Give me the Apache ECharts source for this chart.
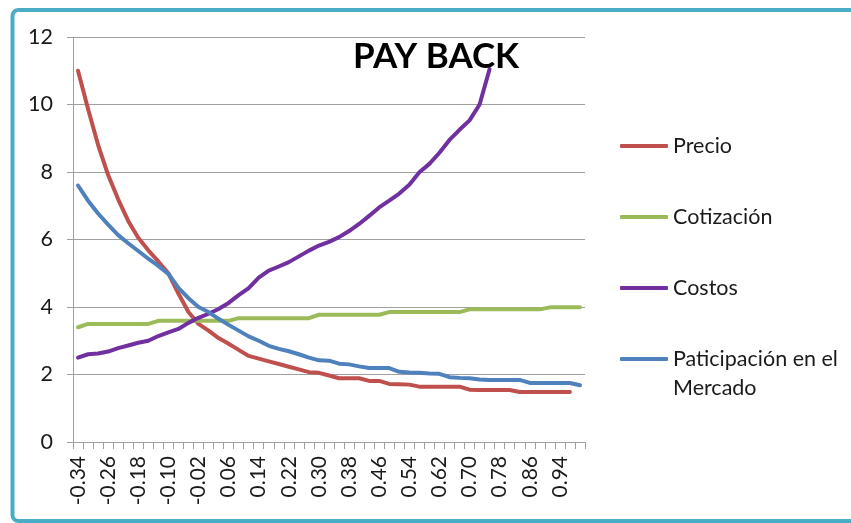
<!DOCTYPE html>
<html><head><meta charset="utf-8">
<script src="https://cdn.jsdelivr.net/npm/echarts@6/dist/echarts.min.js"></script>
<style>html,body{margin:0;padding:0;background:#fff}#c{width:851px;height:523px}</style>
</head><body><div id="c"></div>
<script>
const categories = ['-0.34','-0.31','-0.29','-0.26','-0.23','-0.21','-0.18','-0.15','-0.13','-0.10',
  '-0.07','-0.05','-0.02','0.01','0.03','0.06','0.09','0.11','0.14','0.17',
  '0.19','0.22','0.25','0.27','0.30','0.33','0.35','0.38','0.41','0.43',
  '0.46','0.49','0.51','0.54','0.57','0.59','0.62','0.65','0.67','0.70',
  '0.73','0.75','0.78','0.81','0.83','0.86','0.89','0.91','0.94','0.97','0.99'];
const seriesNames = ['Precio','Cotización','Costos','Paticipación en el Mercado'];
const precio = [11.0,9.87,8.80,7.91,7.19,6.55,6.05,5.68,5.35,5.00,
  4.40,3.85,3.50,3.30,3.08,2.91,2.73,2.55,2.47,2.39,
  2.31,2.23,2.15,2.07,2.05,1.97,1.89,1.89,1.89,1.81,
  1.81,1.72,1.71,1.70,1.64,1.64,1.64,1.64,1.64,1.55,
  1.54,1.54,1.54,1.54,1.48,1.48,1.48,1.48,1.48,1.48,null];
const cotizacion = [3.40,3.50,3.50,3.50,3.50,3.50,3.50,3.50,3.59,3.59,
  3.59,3.59,3.59,3.59,3.59,3.59,3.67,3.67,3.67,3.67,
  3.67,3.67,3.67,3.67,3.77,3.77,3.77,3.77,3.77,3.77,
  3.77,3.85,3.85,3.85,3.85,3.85,3.85,3.85,3.85,3.93,
  3.93,3.93,3.93,3.93,3.93,3.93,3.93,3.99,3.99,3.99,3.99];
const costos = [2.50,2.60,2.62,2.68,2.78,2.86,2.94,3.00,3.14,3.25,
  3.35,3.53,3.68,3.80,3.94,4.12,4.35,4.56,4.87,5.08,
  5.20,5.33,5.50,5.67,5.82,5.93,6.07,6.25,6.46,6.70,
  6.95,7.15,7.36,7.62,7.99,8.24,8.57,8.95,9.25,9.53,
  10.0,11.05,null,null,null,null,null,null,null,null,null];
const participacion = [7.60,7.15,6.77,6.44,6.13,5.89,5.66,5.43,5.22,4.98,
  4.57,4.26,4.00,3.85,3.65,3.47,3.30,3.13,3.00,2.85,
  2.76,2.69,2.60,2.50,2.42,2.41,2.32,2.30,2.24,2.19,
  2.19,2.19,2.08,2.06,2.05,2.03,2.02,1.92,1.90,1.89,
  1.85,1.84,1.84,1.84,1.84,1.75,1.75,1.75,1.75,1.75,1.68];
const colors = ['#C0504D','#9BBB59','#7030A0','#4F81BD'];
const FONT = 'Lato, "Open Sans", sans-serif';

const chart = echarts.init(document.getElementById('c'), null, {renderer:'canvas'});
const dataSets = [precio, cotizacion, costos, participacion];
const option = {
  animation: false,
  backgroundColor: '#fff',
  color: colors,
  title: {text: 'PAY BACK', left: 353, top: 39, padding: 0,
    textStyle: {fontFamily: FONT, fontWeight: 'bold', fontSize: 35, color: '#000'}},
  grid: {left: 73, right: 266, top: 37, bottom: 81, containLabel: false},
  legend: {orient: 'vertical', left: 615, top: 127, itemWidth: 48, itemHeight: 4, itemGap: 43,
    icon: 'roundRect', padding: 5,
    textStyle: {fontFamily: FONT, fontSize: 21.5, color: '#1a1a1a', lineHeight: 28},
    formatter: n => n === seriesNames[3] ? 'Paticipación en el' : n,
    data: seriesNames},
  xAxis: {type: 'category', data: categories, boundaryGap: true,
    axisLine: {lineStyle: {color: '#a0a0a0'}},
    axisTick: {show: true, interval: 0, length: 7, lineStyle: {color: '#a0a0a0'}},
    axisLabel: {interval: 2, rotate: 90, margin: 14, fontFamily: FONT, fontSize: 21, color: '#1a1a1a'}},
  yAxis: {type: 'value', min: 0, max: 12, interval: 2,
    axisLine: {show: true, lineStyle: {color: '#a0a0a0'}},
    axisTick: {show: true, length: 6, lineStyle: {color: '#a0a0a0'}},
    splitLine: {lineStyle: {color: '#a0a0a0'}},
    axisLabel: {margin: 20, fontFamily: FONT, fontSize: 21.5, color: '#1a1a1a'}},
  graphic: [
    {type: 'rect', silent: true, shape: {x: 12.5, y: 10, width: 900, height: 511, r: 6},
      style: {fill: 'none', stroke: '#4BACC6', lineWidth: 4}},
    {type: 'text', silent: true, x: 673, y: 388,
      style: {text: 'Mercado', fontFamily: 'Lato', fontSize: 21.5, fill: '#1a1a1a', verticalAlign: 'middle'}}
  ],
  series: seriesNames.map((n, i) => ({
    name: n, type: 'line', data: dataSets[i], symbol: 'none', clip: true,
    lineStyle: {width: 4, color: colors[i], cap: 'round', join: 'round'},
    itemStyle: {color: colors[i]}
  }))
};
chart.setOption(option);
</script></body></html>
